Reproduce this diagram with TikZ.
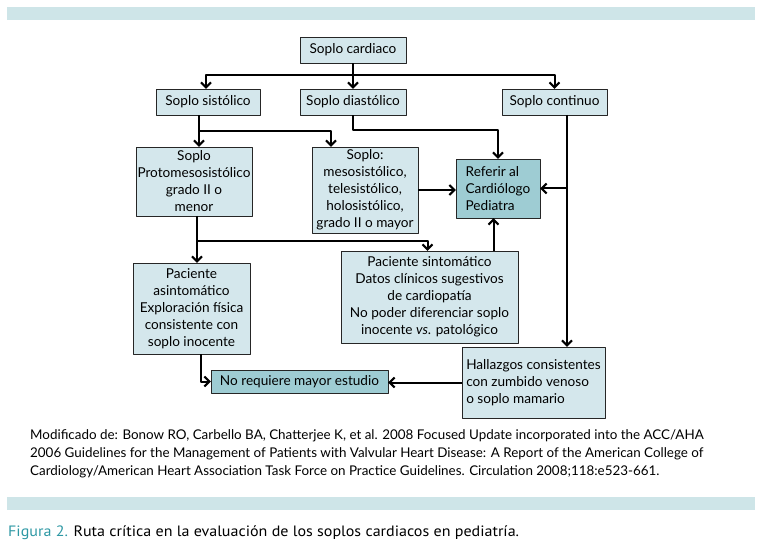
\documentclass[tikz,border=0pt]{standalone}
\usepackage{fontspec}
\setmainfont{Lato}
\newfontfamily\piefont{PT Sans}
\usetikzlibrary{arrows.meta}
\definecolor{banda}{RGB}{206,229,232}
\definecolor{clara}{RGB}{212,231,236}
\definecolor{oscura}{RGB}{158,204,211}
\definecolor{azulfig}{RGB}{46,152,164}
\begin{document}
\begin{tikzpicture}[x=1pt, y=-1pt, line join=round, >={Straight Barb[length=5pt,width=10pt]},
  caja/.style={draw=black!85, fill=clara, inner sep=0pt, align=center, font=\fontsize{13.6}{17}\selectfont},
  fuerte/.style={caja, fill=oscura},
  flecha/.style={->, line width=2pt}]
				\useasboundingbox (0,0) rectangle (760,545);
				\fill[banda] (7,7) rectangle (755,20);
				\fill[banda] (7,497) rectangle (755,510);
				% primer nivel
				\node[caja, minimum width=106, minimum height=26] (car) at (353,50) {Soplo cardiaco};
				\node[caja, minimum width=104, minimum height=26] (sis) at (208,102) {Soplo sistólico};
				\node[caja, minimum width=106, minimum height=26] (dia) at (353,102) {Soplo diastólico};
				\node[caja, minimum width=105, minimum height=26] (con) at (554.5,102) {Soplo continuo};
				% segundo nivel
				\node[caja, minimum width=116, minimum height=69] (pro) at (194,181.5) {Soplo\\Protomesosistólico\\grado II o\\menor};
				\node[caja, minimum width=106, minimum height=86] (sop) at (365,190) {Soplo:\\mesosistólico,\\telesistólico,\\holosistólico,\\grado II o mayor};
				\node[fuerte, align=left, minimum width=84, minimum height=59] (ref) at (498,188.5) {Referir al\\Cardiólogo\\Pediatra};
				% tercer nivel
				\node[caja, minimum width=117, minimum height=91] (asi) at (191.5,308.5) {Paciente\\asintomático\\Exploración física\\consistente con\\soplo inocente};
				\node[caja, minimum width=177, minimum height=92] (sin) at (429.5,297) {Paciente sintomático\\Datos clínicos sugestivos\\de cardiopatía\\No poder diferenciar soplo\\inocente \textit{vs}. patológico};
				\node[fuerte, minimum width=177, minimum height=23] (nor) at (299.5,381.5) {No requiere mayor estudio};
				\node[caja, align=left, minimum width=143, minimum height=71] (hal) at (533.5,382.5) {Hallazgos consistentes\\con zumbido venoso\\o soplo mamario};
				% conectores
				\coordinate (r1) at (353,75);
				\draw[line width=2pt] (car.south) -- (r1);
				\draw[flecha] (r1) -| ([xshift=-2]sis.north);
				\draw[flecha] (r1) -- (dia.north);
				\draw[flecha] (r1) -| (con.north);
				\coordinate (r2) at (199,131);
				\draw[line width=2pt] ([xshift=-9]sis.south) -- (r2);
				\draw[flecha] (r2) -- (r2 |- pro.north);
				\draw[flecha] (r2) -| ([xshift=-34]sop.north);
				\draw[flecha] (dia.south) -- ++(0,15) -| (ref.north);
				\draw[flecha] (sop.east) -- (sop.east -| ref.west);
				\coordinate (r3) at (567,115);
				\draw[flecha] (r3) -- (r3 |- hal.north);
				\draw[flecha] (r3 |- ref.east) -- (ref.east);
				\coordinate (r4) at (197,216);
				\draw[flecha] (r4) -- (r4 |- asi.north);
				\draw[flecha] (197,241) -| ([xshift=-2]sin.north);
				\draw[flecha] ([xshift=64]sin.north) -- ([xshift=64]sin.north |- ref.south);
				\draw[flecha] ([xshift=9]asi.south) |- (nor.west);
				\draw[flecha] (hal.west) -- (hal.west -| nor.east);
				% textos al pie
				\node[anchor=north west, align=left, inner sep=0pt, font=\fontsize{13.4}{18}\selectfont] (nota) at (30,429) {Modificado de: Bonow RO, Carbello BA, Chatterjee K, et al. 2008 Focused Update incorporated into the ACC/AHA\\2006 Guidelines for the Management of Patients with Valvular Heart Disease: A Report of the American College of\\Cardiology/American Heart Association Task Force on Practice Guidelines. Circulation 2008;118:e523-661.};
				\node[anchor=base west, inner sep=0pt, font=\piefont\addfontfeatures{FakeStretch=1.07}\fontsize{15}{18}\selectfont] (pie) at (8,536) {\textcolor{azulfig}{Figura 2.} Ruta crítica en la evaluación de los soplos cardiacos en pediatría.};
\end{tikzpicture}
\end{document}
